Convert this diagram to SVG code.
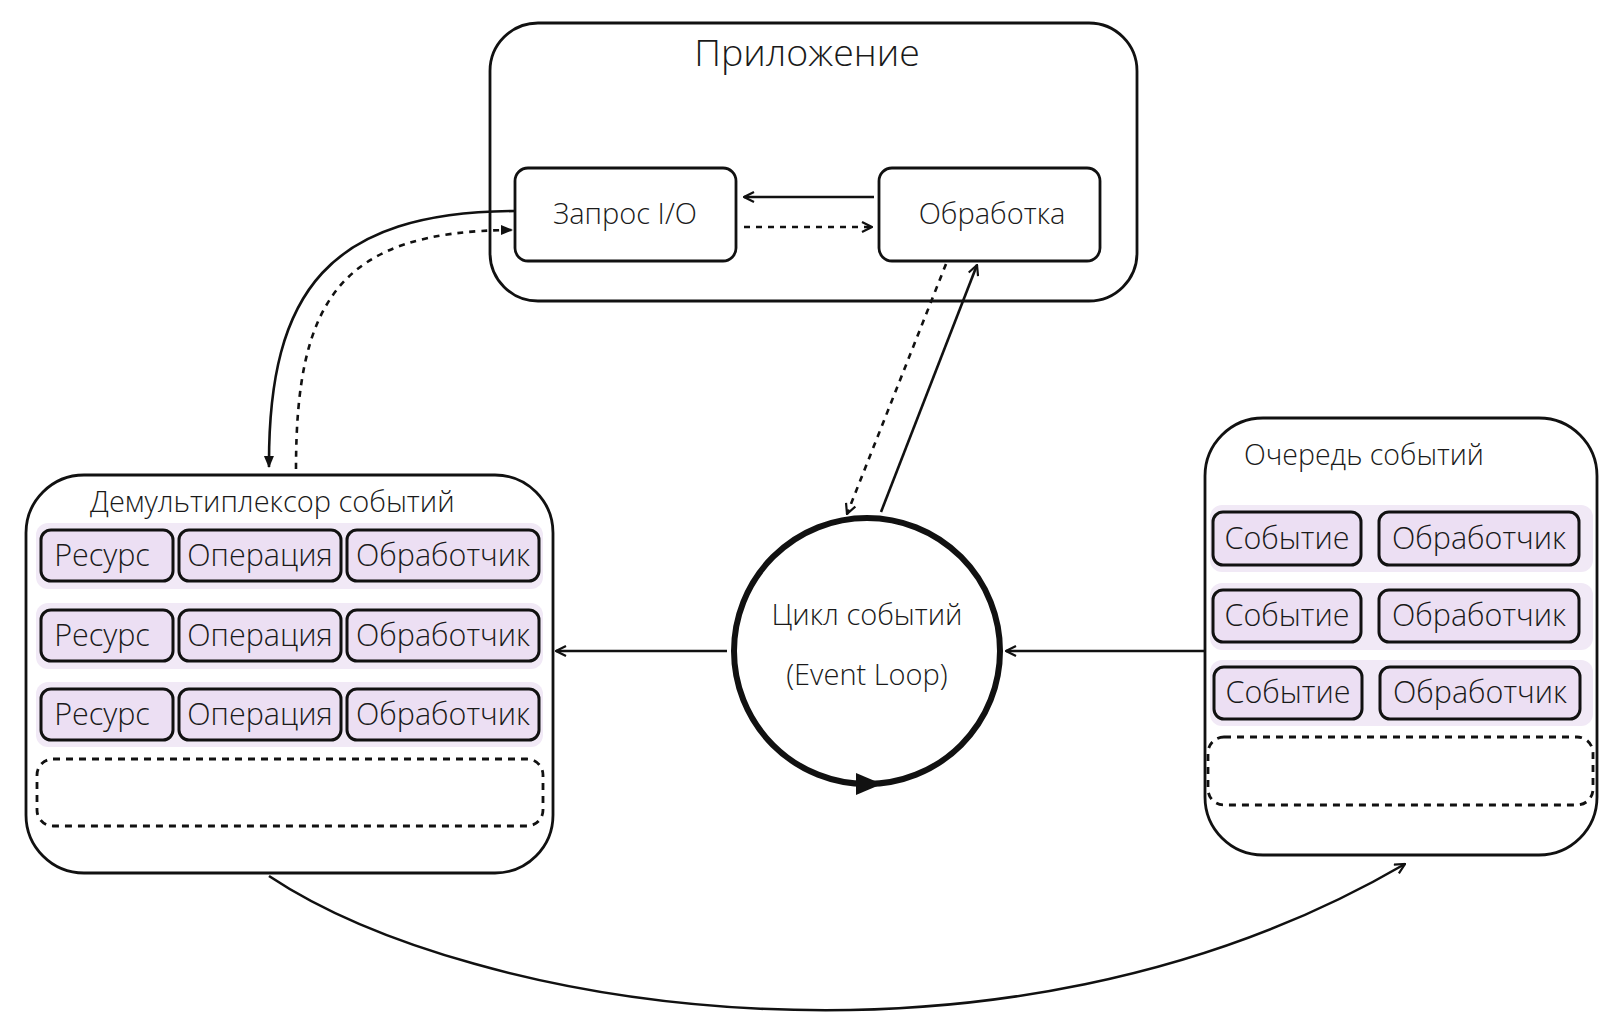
<svg xmlns="http://www.w3.org/2000/svg" width="1620" height="1026" viewBox="0 0 1620 1026">
<style>
text{font-family:"Open Sans","Noto Sans",sans-serif;font-weight:300;fill:#1a1a1a;}
.box{fill:none;stroke:#111;stroke-width:2.8;}
.band{fill:#f1e9f6;stroke:none;}
.cell{fill:#ecdff3;stroke:#111;stroke-width:3;}
.dash{fill:none;stroke:#111;stroke-width:2.8;stroke-dasharray:7 6;}
.ln{fill:none;stroke:#111;stroke-width:2.6;}
.dl{fill:none;stroke:#111;stroke-width:2.6;stroke-dasharray:6 6;}
.c{font-size:29px;text-anchor:middle;}
.t{font-size:30.5px;text-anchor:middle;}
</style>
<defs>
<marker id="ch" viewBox="0 0 12 12" refX="11" refY="6" markerWidth="12" markerHeight="12" markerUnits="userSpaceOnUse" orient="auto">
<path d="M1,1 L11,6 L1,11" fill="none" stroke="#111" stroke-width="2.2"/>
</marker>
<marker id="tri" viewBox="0 0 12 12" refX="11" refY="6" markerWidth="12" markerHeight="12" markerUnits="userSpaceOnUse" orient="auto">
<path d="M0,1 L12,6 L0,11 Z" fill="#111"/>
</marker>
</defs>

<g id="app">
<rect class="box" x="490" y="23" width="647" height="278" rx="48"/>
<text x="807" y="66" font-size="37.5" text-anchor="middle">Приложение</text>
</g>
<g id="zapros">
<rect class="box" x="515" y="168" width="221" height="93" rx="13"/>
<text class="c" x="625" y="224">Запрос I/O</text>
</g>
<g id="obrabotka">
<rect class="box" x="879" y="168" width="221" height="93" rx="13"/>
<text class="c" x="992" y="224" font-size="30">Обработка</text>
</g>

<g id="demux">
<rect class="box" x="26" y="475" width="527" height="398" rx="58"/>
<text x="90" y="512" font-size="29">Демультиплексор событий</text>
<rect class="band" x="36" y="523" width="507" height="66" rx="12"/>
<rect class="band" x="36" y="603" width="507" height="66" rx="12"/>
<rect class="band" x="36" y="682" width="507" height="65" rx="12"/>
<rect class="cell" x="41" y="530" width="132" height="51" rx="10"/>
<rect class="cell" x="179" y="530" width="162" height="51" rx="10"/>
<rect class="cell" x="347" y="530" width="192" height="51" rx="10"/>
<rect class="cell" x="41" y="610" width="132" height="51" rx="10"/>
<rect class="cell" x="179" y="610" width="162" height="51" rx="10"/>
<rect class="cell" x="347" y="610" width="192" height="51" rx="10"/>
<rect class="cell" x="41" y="689" width="132" height="51" rx="10"/>
<rect class="cell" x="179" y="689" width="162" height="51" rx="10"/>
<rect class="cell" x="347" y="689" width="192" height="51" rx="10"/>
<text class="t" x="102" y="566">Ресурс</text>
<text class="t" x="260" y="566">Операция</text>
<text class="t" x="443" y="566">Обработчик</text>
<text class="t" x="102" y="646">Ресурс</text>
<text class="t" x="260" y="646">Операция</text>
<text class="t" x="443" y="646">Обработчик</text>
<text class="t" x="102" y="725">Ресурс</text>
<text class="t" x="260" y="725">Операция</text>
<text class="t" x="443" y="725">Обработчик</text>
<rect class="dash" x="37" y="759" width="506" height="67" rx="16"/>
</g>

<g id="queue">
<rect class="box" x="1205" y="418" width="392" height="437" rx="58"/>
<text x="1244" y="465" font-size="28.5">Очередь событий</text>
<rect class="band" x="1210" y="505" width="383" height="67" rx="12"/>
<rect class="band" x="1210" y="583" width="383" height="67" rx="12"/>
<rect class="band" x="1210" y="660" width="383" height="66" rx="12"/>
<rect class="cell" x="1213" y="512" width="148" height="53" rx="10"/>
<rect class="cell" x="1379" y="512" width="200" height="53" rx="10"/>
<rect class="cell" x="1213" y="590" width="148" height="52" rx="10"/>
<rect class="cell" x="1379" y="590" width="200" height="52" rx="10"/>
<rect class="cell" x="1214" y="667" width="148" height="52" rx="10"/>
<rect class="cell" x="1380" y="667" width="200" height="52" rx="10"/>
<text class="t" x="1287" y="549">Событие</text>
<text class="t" x="1479" y="549">Обработчик</text>
<text class="t" x="1287" y="626">Событие</text>
<text class="t" x="1479" y="626">Обработчик</text>
<text class="t" x="1288" y="703">Событие</text>
<text class="t" x="1480" y="703">Обработчик</text>
<rect class="dash" x="1208" y="737" width="385" height="68" rx="16"/>
</g>

<g id="loop">
<circle cx="867" cy="651" r="133" fill="none" stroke="#111" stroke-width="6"/>
<text class="c" x="867" y="625">Цикл событий</text>
<text class="c" x="867" y="685">(Event Loop)</text>
</g>

<g id="connectors">
<line class="ln" x1="874" y1="197" x2="744" y2="197" marker-end="url(#ch)"/>
<line class="dl" x1="744" y1="227" x2="872" y2="227" marker-end="url(#ch)"/>
<path class="ln" d="M515,211 C330,212 268,290 269,467" marker-end="url(#tri)"/>
<path class="dl" d="M296,469 C296,300 340,231 512,230" marker-end="url(#tri)"/>
<line class="dl" x1="946" y1="264" x2="847" y2="514" marker-end="url(#ch)"/>
<line class="ln" x1="881" y1="512" x2="977" y2="265" marker-end="url(#ch)"/>
<line class="ln" x1="727" y1="651" x2="556" y2="651" marker-end="url(#ch)"/>
<line class="ln" x1="1205" y1="651" x2="1006" y2="651" marker-end="url(#ch)"/>
<path class="ln" d="M269,876 C470,1010 1000,1100 1405,864" marker-end="url(#ch)"/>
<path d="M856,773 L882,784 L856,795 Z" fill="#111"/>
</g>
</svg>
